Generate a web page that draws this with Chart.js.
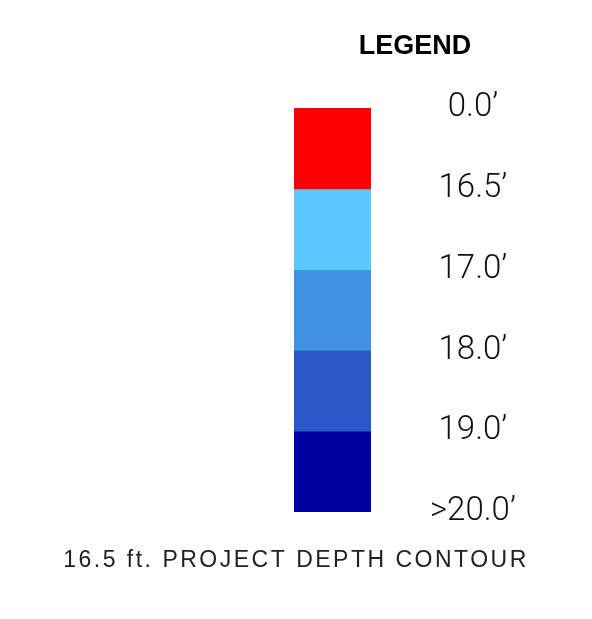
<!DOCTYPE html>
<html>
<head>
<meta charset="utf-8">
<script src="https://cdn.jsdelivr.net/npm/chart.js@4"></script>
<style>
html,body{margin:0;padding:0;background:#fff;}
#wrap{width:592px;height:619px;}
</style>
</head>
<body>
<div id="wrap"><canvas id="c" width="592" height="619"></canvas></div>
<script>
// Legend bands (ordinal), top to bottom
const bandNames = ["0.0–16.5", "16.5–17.0", "17.0–18.0", "18.0–19.0", "19.0–>20.0"];
const bandValues = [1, 1, 1, 1, 1];
const bandColors = ["#FF0000", "#5BC8FF", "#4191E2", "#2A58C9", "#0000A1"];
const tickLabels = ["0.0\u2019", "16.5\u2019", "17.0\u2019", "18.0\u2019", "19.0\u2019", ">20.0\u2019"];
const titleText = "LEGEND";
const captionText = "16.5 ft. PROJECT DEPTH CONTOUR";

const textPlugin = {
  id: 'legendText',
  afterDraw(chart) {
    const ctx = chart.ctx;
    const area = chart.chartArea;
    ctx.save();
    ctx.fillStyle = '#000';
    ctx.textAlign = 'center';
    ctx.textBaseline = 'middle';
    ctx.font = 'bold 27px "Liberation Sans", Arial, sans-serif';
    ctx.fillText(titleText, 415, area.top - 61);
    ctx.fillStyle = '#222';
    ctx.font = '23px "Liberation Sans", Arial, sans-serif';
    if ('letterSpacing' in ctx) ctx.letterSpacing = '2.5px';
    ctx.fillText(captionText, chart.width / 2, area.bottom + 49);
    ctx.restore();
  }
};

const datasets = bandNames.map((n, i) => ({
  label: n,
  data: [bandValues[i]],
  backgroundColor: bandColors[i],
  borderWidth: 0,
  barPercentage: 1,
  categoryPercentage: 1
}));

new Chart(document.getElementById('c'), {
  type: 'bar',
  data: { labels: [''], datasets },
  options: {
    responsive: false,
    animation: false,
    layout: { padding: { left: 294, right: 70, top: 108, bottom: 107 } },
    plugins: { legend: { display: false }, tooltip: { enabled: false }, title: { display: false } },
    scales: {
      x: { stacked: true, display: false },
      y: {
        stacked: true,
        position: 'right',
        min: 0, max: 5,
        reverse: true,
        grid: { display: false, drawTicks: false },
        border: { display: false },
        afterFit(scale) { scale.width = 151; },
        ticks: {
          stepSize: 1,
          padding: 59,
          crossAlign: 'center',
          color: '#111',
          font: { family: 'Roboto, "Liberation Sans", sans-serif', size: 33, weight: '300' },
          callback: (v) => tickLabels[Math.round(v)]
        }
      }
    }
  },
  plugins: [textPlugin]
});
</script>
</body>
</html>
